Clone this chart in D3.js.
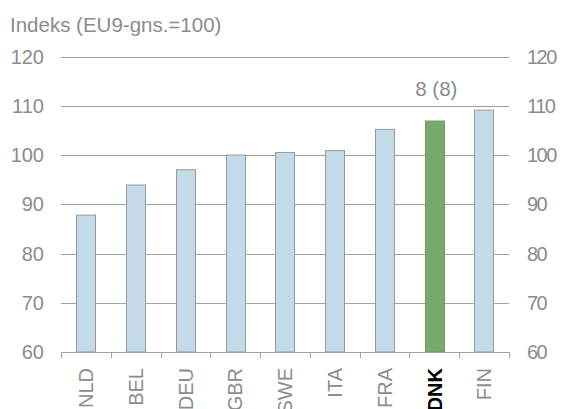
<!DOCTYPE html>
<html><head><meta charset="utf-8">
<script src="https://cdn.jsdelivr.net/npm/d3@7"></script>
<style>
html,body{margin:0;padding:0;background:#fff;overflow:hidden;}
svg{display:block;font-family:"Liberation Sans",Arial,sans-serif;}
</style></head>
<body><svg id="c" width="566" height="409"></svg>
<script>
const categories = ["NLD","BEL","DEU","GBR","SWE","ITA","FRA","DNK","FIN"];
const values = [87.8, 93.9, 97.0, 100.0, 100.5, 100.9, 105.2, 106.9, 109.1];
const highlight = "DNK";
const yTicks = [60,70,80,90,100,110,120];
const titleText = "Indeks (EU9-gns.=100)";
const rankLabel = "8 (8)";

const svg = d3.select("#c");
const x = d3.scaleBand().domain(categories).range([61,509]).paddingInner(0.61).paddingOuter(0.305);
const y = d3.scaleLinear().domain([60,120]).range([352,56.5]);
const gray = "#8c8c8c";
const lineCol = "#a0a0a0";

// gridlines
svg.append("g").selectAll("line").data(yTicks.filter(t=>t>60)).join("line")
  .attr("x1",61).attr("x2",509)
  .attr("y1",d=>Math.round(y(d))+0.5).attr("y2",d=>Math.round(y(d))+0.5)
  .attr("stroke",lineCol).attr("stroke-width",1);

// left labels
svg.append("g").selectAll("text").data(yTicks).join("text")
  .attr("x",44).attr("y",d=>y(d)).attr("dy","0.36em")
  .attr("text-anchor","end").attr("font-size",20).attr("fill",gray).text(d=>d);
// right labels
svg.append("g").selectAll("text").data(yTicks).join("text")
  .attr("x",527).attr("y",d=>y(d)).attr("dy","0.36em")
  .attr("text-anchor","start").attr("font-size",20).attr("letter-spacing","-1.5px").attr("fill",gray).text(d=>d);

// bars
svg.append("g").selectAll("rect").data(categories).join("rect")
  .attr("x",d=>Math.round(x(d))+0.5)
  .attr("width",Math.round(x.bandwidth()))
  .attr("y",(d,i)=>y(values[i]))
  .attr("height",(d,i)=>y(60)-y(values[i]))
  .attr("fill",d=>d===highlight?"#78aa6e":"#c3dbe8")
  .attr("stroke",d=>d===highlight?"#6d9a64":"#999")
  .attr("stroke-width",1);

// x axis line and ticks
const ax = svg.append("g");
ax.append("line").attr("x1",61).attr("x2",509).attr("y1",352.5).attr("y2",352.5).attr("stroke",lineCol);
const bounds = categories.map(c=>x(c)-x.step()*x.paddingInner()/2).concat([509]);
ax.selectAll("line.t").data(bounds).join("line").attr("class","t")
  .attr("x1",d=>Math.round(d)+0.5).attr("x2",d=>Math.round(d)+0.5)
  .attr("y1",352).attr("y2",358).attr("stroke",lineCol);

// x labels rotated
svg.append("g").selectAll("text").data(categories).join("text")
  .attr("transform",d=>`translate(${x(d)+x.bandwidth()/2},368) rotate(-90)`)
  .attr("dy","0.36em")
  .attr("text-anchor","end").attr("font-size",20)
  .attr("font-weight",d=>d===highlight?"bold":"normal")
  .attr("fill",d=>d===highlight?"#000":gray)
  .text(d=>d);

// rank label
const hi = categories.indexOf(highlight);
svg.append("text").attr("x",x(highlight)+x.bandwidth()/2+2).attr("y",y(values[hi])-25)
  .attr("text-anchor","middle").attr("font-size",20.5).attr("fill",gray).text(rankLabel);

// title
svg.append("text").attr("x",10).attr("y",32).attr("font-size",20.5).attr("fill",gray).text(titleText);
</script></body></html>
